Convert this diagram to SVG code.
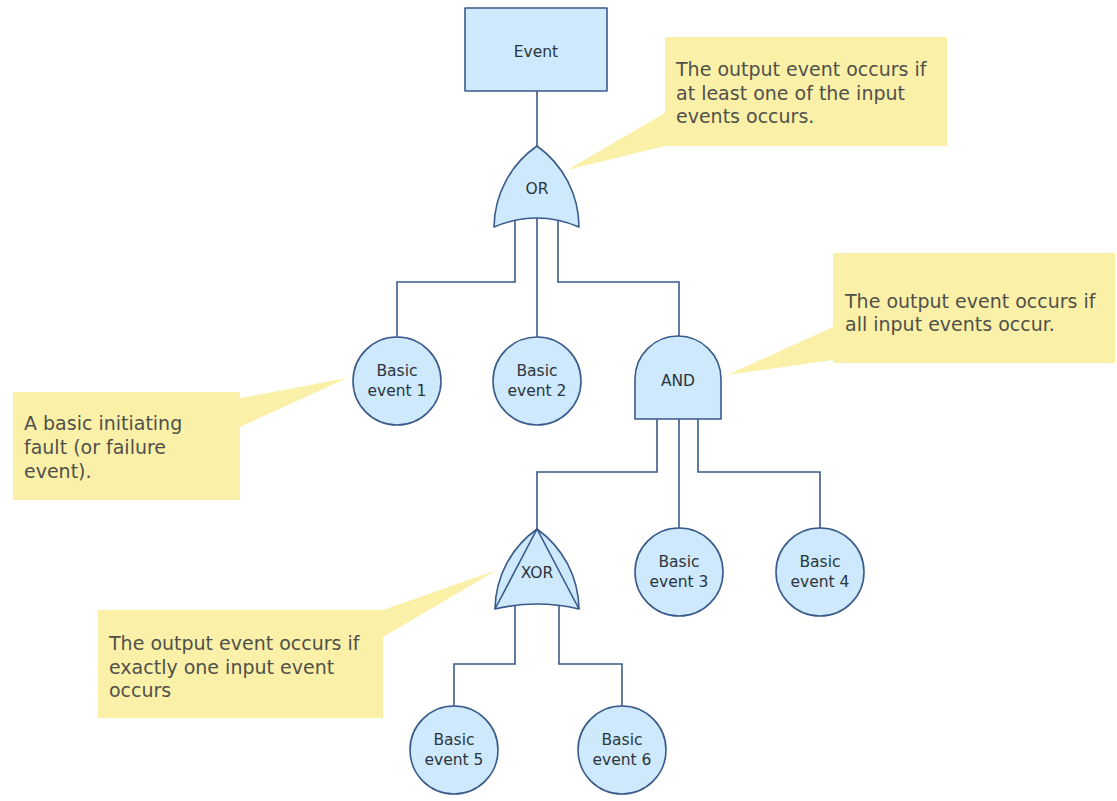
<svg xmlns="http://www.w3.org/2000/svg" width="1117" height="801" viewBox="0 0 1117 801">
  <style>
    .node { fill: #cde9fb; stroke: #3a5a8c; stroke-width: 1.6; stroke-linejoin: round; }
    .wire { fill: none; stroke: #3a5a8c; stroke-width: 1.6; }
    .lbl { font-family: "DejaVu Sans", Verdana, sans-serif; font-size: 15.5px; fill: #2b3540; text-anchor: middle; }
    .note { fill: #fbf0a8; }
    .note-text { font-family: "DejaVu Sans", Verdana, sans-serif; font-size: 19px; fill: #50504a; }
  </style>
  <rect width="1117" height="801" fill="#ffffff"/>

  <!-- callouts -->
  <g id="note-or">
    <path class="note" d="M665,37 H947 V146 H665 V146 L567,170 L665,113 Z"/>
    <text class="note-text" x="676" y="76">The output event occurs if</text>
    <text class="note-text" x="676" y="99.5">at least one of the input</text>
    <text class="note-text" x="676" y="123">events occurs.</text>
  </g>
  <g id="note-and">
    <path class="note" d="M833,253 H1115 V363 H833 V360 L727,375 L833,327 Z"/>
    <text class="note-text" x="845" y="308">The output event occurs if</text>
    <text class="note-text" x="845" y="331">all input events occur.</text>
  </g>
  <g id="note-basic">
    <path class="note" d="M13,392 H240 V398 L347,378 L240,427 V500 H13 Z"/>
    <text class="note-text" x="24" y="430">A basic initiating</text>
    <text class="note-text" x="24" y="454">fault (or failure</text>
    <text class="note-text" x="24" y="478">event).</text>
  </g>
  <g id="note-xor">
    <path class="note" d="M98,610 H383 L497,570 L383,637 V718 H98 Z"/>
    <text class="note-text" x="109" y="650">The output event occurs if</text>
    <text class="note-text" x="109" y="673.5">exactly one input event</text>
    <text class="note-text" x="109" y="697">occurs</text>
  </g>

  <!-- connectors -->
  <g id="connectors">
    <path class="wire" d="M537,91 V146"/>
    <path class="wire" d="M515,212 V282 H397 V337"/>
    <path class="wire" d="M537,212 V337"/>
    <path class="wire" d="M558,212 V282 H679 V336"/>
    <path class="wire" d="M657,410 V472 H537 V529"/>
    <path class="wire" d="M679,410 V528"/>
    <path class="wire" d="M698,410 V472 H820 V528"/>
    <path class="wire" d="M515,595 V664 H454 V706"/>
    <path class="wire" d="M559,595 V664 H622 V706"/>
  </g>

  <!-- nodes -->
  <g id="top-event">
    <rect class="node" x="465" y="8" width="142" height="83"/>
    <text class="lbl" x="536" y="57">Event</text>
  </g>
  <g id="or-gate">
    <path class="node" d="M537,146 A100,100 0 0 0 494,227 Q537,209 579,227 A100,100 0 0 0 537,146 Z"/>
    <text class="lbl" x="537" y="194">OR</text>
  </g>
  <g id="basic-1">
    <circle class="node" cx="397" cy="381" r="44"/>
    <text class="lbl" x="397" y="376">Basic</text>
    <text class="lbl" x="397" y="396">event 1</text>
  </g>
  <g id="basic-2">
    <circle class="node" cx="537" cy="381" r="44"/>
    <text class="lbl" x="537" y="376">Basic</text>
    <text class="lbl" x="537" y="396">event 2</text>
  </g>
  <g id="and-gate">
    <path class="node" d="M635,419 V379 A43,43 0 0 1 721,379 V419 Z"/>
    <text class="lbl" x="678" y="386">AND</text>
  </g>
  <g id="xor-gate">
    <path class="node" d="M537,529 A100,100 0 0 0 495,609 Q537,599 579,609 A100,100 0 0 0 537,529 Z"/>
    <path class="wire" d="M495,609 L537,529 L579,609"/>
    <text class="lbl" x="537" y="578">XOR</text>
  </g>
  <g id="basic-3">
    <circle class="node" cx="679" cy="572" r="44"/>
    <text class="lbl" x="679" y="567">Basic</text>
    <text class="lbl" x="679" y="587">event 3</text>
  </g>
  <g id="basic-4">
    <circle class="node" cx="820" cy="572" r="44"/>
    <text class="lbl" x="820" y="567">Basic</text>
    <text class="lbl" x="820" y="587">event 4</text>
  </g>
  <g id="basic-5">
    <circle class="node" cx="454" cy="750" r="44"/>
    <text class="lbl" x="454" y="745">Basic</text>
    <text class="lbl" x="454" y="765">event 5</text>
  </g>
  <g id="basic-6">
    <circle class="node" cx="622" cy="750" r="44"/>
    <text class="lbl" x="622" y="745">Basic</text>
    <text class="lbl" x="622" y="765">event 6</text>
  </g>
</svg>
